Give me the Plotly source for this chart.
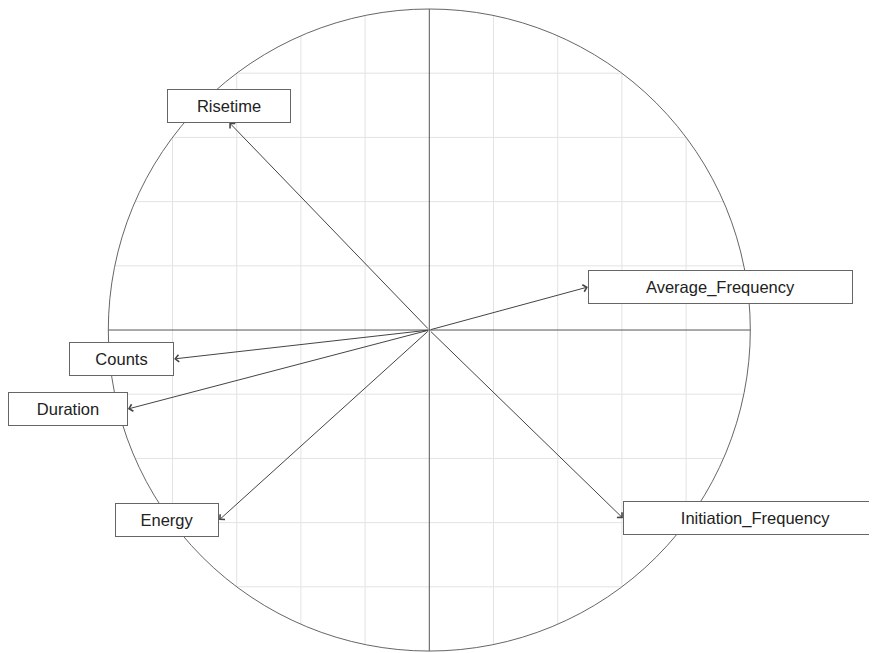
import numpy as np
import plotly.graph_objects as go

# Variable loadings (correlation circle)
variables = ['Risetime', 'Average_Frequency', 'Counts', 'Duration', 'Energy', 'Initiation_Frequency']
dim1 = [-0.623, 0.494, -0.795, -0.939, -0.655, 0.603]
dim2 = [0.646, 0.134, -0.090, -0.246, -0.592, -0.586]

grid_values = [-0.8, -0.6, -0.4, -0.2, 0.2, 0.4, 0.6, 0.8]

# label box widths in px (style, not data)
box_widths = [122, 263, 103, 118, 102, 263]

GRID = '#e3e3e3'
AXIS = '#555555'

fig = go.Figure()

# grid chords clipped to the unit circle
for v in grid_values:
    h = np.sqrt(1 - v ** 2)
    fig.add_trace(go.Scatter(x=[v, v], y=[-h, h], mode='lines',
                             line=dict(color=GRID, width=1), hoverinfo='skip', showlegend=False))
    fig.add_trace(go.Scatter(x=[-h, h], y=[v, v], mode='lines',
                             line=dict(color=GRID, width=1), hoverinfo='skip', showlegend=False))

# axes through the origin
fig.add_trace(go.Scatter(x=[-1, 1], y=[0, 0], mode='lines',
                         line=dict(color=AXIS, width=1), hoverinfo='skip', showlegend=False))
fig.add_trace(go.Scatter(x=[0, 0], y=[-1, 1], mode='lines',
                         line=dict(color=AXIS, width=1), hoverinfo='skip', showlegend=False))

# unit circle
fig.add_shape(type='circle', xref='x', yref='y', x0=-1, y0=-1, x1=1, y1=1,
              line=dict(color='#666666', width=1))

for name, x, y, w in zip(variables, dim1, dim2, box_widths):
    # arrow from origin to loading
    fig.add_annotation(x=x, y=y, ax=0, ay=0, xref='x', yref='y', axref='x', ayref='y',
                       text='', showarrow=True, arrowhead=4, arrowsize=1.4, arrowwidth=1,
                       arrowcolor='#444444', standoff=0, startstandoff=0)
    # label box attached to the tip
    if abs(y) > abs(x):
        xa, ya = 'center', ('bottom' if y > 0 else 'top')
    else:
        xa, ya = ('left' if x > 0 else 'right'), 'middle'
    fig.add_annotation(x=x, y=y, xref='x', yref='y', text=name, showarrow=False,
                       xanchor=xa, yanchor=ya, width=w, height=32, borderpad=0,
                       bordercolor='#666666', borderwidth=1, bgcolor='white',
                       font=dict(family='Liberation Sans, Arial, sans-serif', size=16.5, color='#222222'))

# ranges shifted to make up for the page's 8px body margin
fig.update_xaxes(range=[-1.3125, 1.4196], showgrid=False, zeroline=False,
                 showticklabels=False, showline=False)
fig.update_yaxes(range=[-1.031, 1.0031], showgrid=False, zeroline=False,
                 showticklabels=False, showline=False)

fig.update_layout(
    width=877,
    height=653,
    margin=dict(l=0, r=0, t=0, b=0),
    plot_bgcolor='white',
    paper_bgcolor='white',
    showlegend=False,
)

fig.write_html("out.html")
